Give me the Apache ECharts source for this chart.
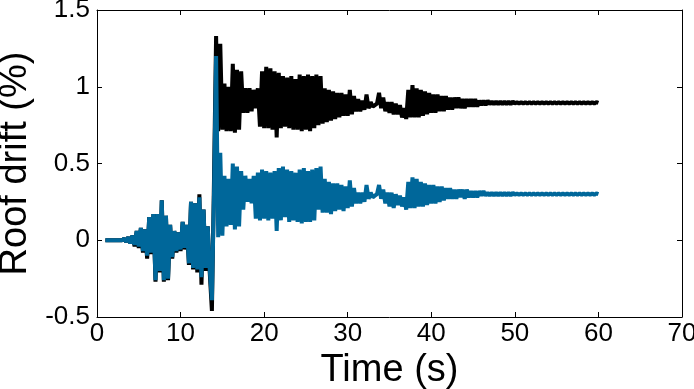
<!DOCTYPE html>
<html>
<head>
<meta charset="utf-8">
<script src="https://cdn.jsdelivr.net/npm/echarts@6/dist/echarts.min.js"></script>
<style>
  html, body { margin: 0; padding: 0; background: #fff; }
  #chart { width: 694px; height: 389px; }
</style>
</head>
<body>
<div id="chart"></div>
<script>
// samples start at 1 s, every 0.25 s, up to 60 s
const tStart = 1
const tStep = 0.25

// black record (4 samples per second)
const driftBlack = [
  0, 0, 0, 0,
  0, 0, 0, 0,
  0, 0.01, -0.01, 0.02,
  -0.02, 0.03, -0.04, 0.06,
  -0.05, 0.08, -0.08, 0.07,
  -0.12, 0.15, -0.09, 0.17,
  -0.27, 0.17, -0.21, 0.26,
  -0.27, 0.16, -0.26, 0.10,
  -0.12, 0.06, -0.08, 0.05,
  -0.07, 0.12, -0.06, 0.10,
  -0.16, 0.25, -0.19, 0.24,
  -0.21, 0.30, -0.29, 0.20,
  -0.20, 0.09, -0.22, -0.46,
  0.40, 1.33, 0.71, 1.28,
  0.72, 1.02, 0.71, 1.00,
  0.71, 1.15, 0.70, 1.11,
  0.72, 1.10, 0.83, 0.99,
  0.83, 0.99, 0.84, 0.98,
  0.86, 0.99, 0.74, 1.10,
  0.73, 1.13, 0.73, 1.12,
  0.72, 1.10, 0.67, 1.09,
  0.73, 1.07, 0.74, 1.06,
  0.73, 1.07, 0.72, 1.05,
  0.72, 1.08, 0.71, 1.07,
  0.72, 1.08, 0.71, 1.07,
  0.73, 1.08, 0.75, 1.07,
  0.76, 0.99, 0.77, 0.98,
  0.78, 0.97, 0.79, 0.96,
  0.80, 0.96, 0.81, 0.95,
  0.81, 0.98, 0.82, 0.94,
  0.84, 0.92, 0.84, 0.91,
  0.85, 0.95, 0.86, 0.90,
  0.87, 0.88, 0.89, 0.96,
  0.86, 0.93, 0.84, 0.90,
  0.83, 0.90, 0.82, 0.89,
  0.82, 0.88, 0.80, 0.86,
  0.79, 0.98, 0.80, 1.01,
  0.80, 0.99, 0.80, 0.98,
  0.81, 0.97, 0.82, 0.96,
  0.83, 0.95, 0.83, 0.95,
  0.84, 0.94, 0.84, 0.94,
  0.85, 0.93, 0.85, 0.93,
  0.86, 0.93, 0.86, 0.92,
  0.86, 0.92, 0.87, 0.92,
  0.87, 0.92, 0.87, 0.91,
  0.88, 0.91, 0.88, 0.91,
  0.885, 0.905, 0.885, 0.905,
  0.885, 0.905, 0.885, 0.905,
  0.885, 0.905, 0.885, 0.905,
  0.89, 0.90, 0.89, 0.90,
  0.89, 0.90, 0.89, 0.90,
  0.89, 0.90, 0.89, 0.90,
  0.89, 0.90, 0.89, 0.90,
  0.89, 0.90, 0.89, 0.90,
  0.89, 0.90, 0.89, 0.90,
  0.89, 0.90, 0.89, 0.90,
  0.89, 0.90, 0.89, 0.90,
  0.89, 0.90, 0.89, 0.90,
  0.89, 0.90, 0.89, 0.90,
  0.895
]

// blue record
const driftBlue = [
  0, 0, 0, 0,
  0, 0, 0, 0,
  0, 0.01, -0.01, 0.02,
  -0.02, 0.03, -0.03, 0.06,
  -0.04, 0.08, -0.07, 0.07,
  -0.10, 0.15, -0.08, 0.17,
  -0.26, 0.17, -0.20, 0.26,
  -0.26, 0.16, -0.25, 0.10,
  -0.11, 0.06, -0.07, 0.05,
  -0.06, 0.12, -0.05, 0.10,
  -0.15, 0.25, -0.18, 0.24,
  -0.19, 0.28, -0.24, 0.20,
  -0.18, 0.09, -0.20, -0.39,
  0.30, 1.20, 0.02, 0.57,
  0.03, 0.42, 0.09, 0.40,
  0.10, 0.50, 0.07, 0.48,
  0.09, 0.45, 0.20, 0.42,
  0.25, 0.40, 0.24, 0.42,
  0.14, 0.44, 0.13, 0.46,
  0.14, 0.45, 0.13, 0.44,
  0.14, 0.45, 0.06, 0.47,
  0.13, 0.48, 0.15, 0.46,
  0.12, 0.45, 0.13, 0.44,
  0.12, 0.46, 0.11, 0.47,
  0.12, 0.45, 0.12, 0.46,
  0.13, 0.47, 0.20, 0.48,
  0.18, 0.40, 0.18, 0.38,
  0.17, 0.37, 0.19, 0.37,
  0.20, 0.36, 0.19, 0.35,
  0.21, 0.39, 0.22, 0.34,
  0.24, 0.31, 0.24, 0.31,
  0.25, 0.36, 0.27, 0.31,
  0.28, 0.29, 0.30, 0.36,
  0.27, 0.33, 0.24, 0.31,
  0.22, 0.31, 0.21, 0.30,
  0.23, 0.29, 0.22, 0.28,
  0.20, 0.38, 0.21, 0.41,
  0.21, 0.40, 0.22, 0.38,
  0.22, 0.37, 0.23, 0.36,
  0.24, 0.36, 0.24, 0.35,
  0.25, 0.35, 0.26, 0.34,
  0.27, 0.34, 0.27, 0.33,
  0.27, 0.33, 0.28, 0.33,
  0.27, 0.33, 0.28, 0.32,
  0.28, 0.32, 0.28, 0.32,
  0.29, 0.32, 0.29, 0.31,
  0.29, 0.31, 0.29, 0.31,
  0.29, 0.31, 0.29, 0.31,
  0.29, 0.31, 0.29, 0.31,
  0.295, 0.305, 0.295, 0.305,
  0.295, 0.305, 0.295, 0.305,
  0.295, 0.305, 0.295, 0.305,
  0.295, 0.305, 0.295, 0.305,
  0.295, 0.305, 0.295, 0.305,
  0.295, 0.305, 0.295, 0.305,
  0.295, 0.305, 0.295, 0.305,
  0.295, 0.305, 0.295, 0.305,
  0.295, 0.305, 0.295, 0.305,
  0.295, 0.305, 0.295, 0.305,
  0.30
]

const xTicks = [0, 10, 20, 30, 40, 50, 60, 70]
const yTicks = [-0.5, 0, 0.5, 1, 1.5]

const font = "'Liberation Sans', Arial, sans-serif"

function pairs (values) {
  return values.map((v, i) => [tStart + i * tStep, v])
}

const boxLine = { show: true, onZero: false, lineStyle: { color: '#000', width: 1 } }
const inTick = { show: true, inside: true, length: 5, lineStyle: { color: '#000' } }

const option = {
  animation: false,
  backgroundColor: '#fff',
  grid: {
    left: 97,
    right: 12,
    top: 10,
    bottom: 72,
    containLabel: false,
    outerBoundsMode: 'none'
  },
  xAxis: [
    {
      type: 'value',
      min: xTicks[0],
      max: xTicks[xTicks.length - 1],
      interval: 10,
      name: 'Time (s)',
      nameLocation: 'middle',
      nameGap: 22,
      nameTextStyle: { fontFamily: font, fontSize: 38, color: '#000', verticalAlign: 'top' },
      axisLine: boxLine,
      axisTick: inTick,
      axisLabel: { fontFamily: font, fontSize: 26, color: '#000', margin: 4 },
      splitLine: { show: false }
    },
    {
      type: 'value',
      position: 'top',
      min: xTicks[0],
      max: xTicks[xTicks.length - 1],
      interval: 10,
      axisLine: boxLine,
      axisTick: inTick,
      axisLabel: { show: false },
      splitLine: { show: false }
    }
  ],
  yAxis: [
    {
      type: 'value',
      min: yTicks[0],
      max: yTicks[yTicks.length - 1],
      interval: 0.5,
      name: 'Roof drift (%)',
      nameLocation: 'middle',
      nameGap: 55,
      nameTextStyle: { fontFamily: font, fontSize: 38, color: '#000' },
      axisLine: boxLine,
      axisTick: inTick,
      axisLabel: { fontFamily: font, fontSize: 26, color: '#000', margin: 7 },
      splitLine: { show: false }
    },
    {
      type: 'value',
      position: 'right',
      min: yTicks[0],
      max: yTicks[yTicks.length - 1],
      interval: 0.5,
      axisLine: boxLine,
      axisTick: inTick,
      axisLabel: { show: false },
      splitLine: { show: false }
    }
  ],
  series: [
    {
      type: 'line',
      data: pairs(driftBlack),
      showSymbol: false,
      silent: true,
      lineStyle: { color: '#000', width: 4 }
    },
    {
      type: 'line',
      data: pairs(driftBlue),
      showSymbol: false,
      silent: true,
      lineStyle: { color: '#00679a', width: 4 }
    }
  ]
}

const myChart = echarts.init(document.getElementById('chart'))
myChart.setOption(option)
</script>
</body>
</html>
